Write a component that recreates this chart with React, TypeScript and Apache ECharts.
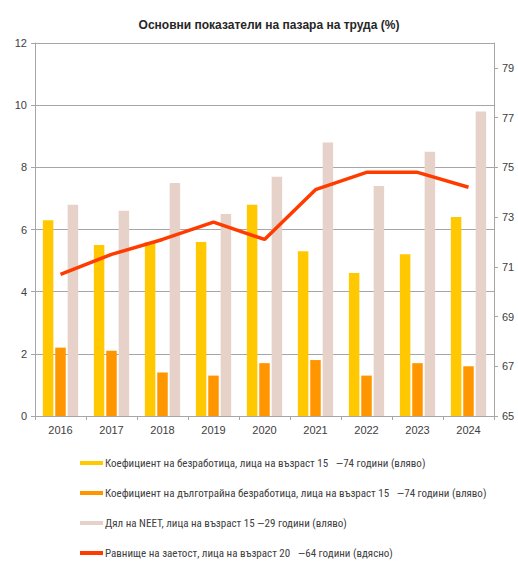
import React, { useEffect, useRef } from "react";
import * as echarts from "echarts";

const years = ["2016", "2017", "2018", "2019", "2020", "2021", "2022", "2023", "2024"];
const unemployment = [6.3, 5.5, 5.6, 5.6, 6.8, 5.3, 4.6, 5.2, 6.4];
const longTermUnemployment = [2.2, 2.1, 1.4, 1.3, 1.7, 1.8, 1.3, 1.7, 1.6];
const neet = [6.8, 6.6, 7.5, 6.5, 7.7, 8.8, 7.4, 8.5, 9.8];
const employment = [70.7, 71.5, 72.1, 72.8, 72.1, 74.1, 74.8, 74.8, 74.2];

const names = [
  "Коефициент на безработица, лица на възраст 15   —74 години (вляво)",
  "Коефициент на дълготрайна безработица, лица на възраст 15   —74 години (вляво)",
  "Дял на NEET, лица на възраст 15 —29 години (вляво)",
  "Равнище на заетост, лица на възраст 20   —64 години (вдясно)",
];

const FONT = "Liberation Sans";
const NARROW = "'Liberation Sans Narrow', 'Arial Narrow', 'Roboto Condensed', 'Liberation Sans'";

export default function App() {
  const ref = useRef<HTMLDivElement>(null);
  useEffect(() => {
    const chart = echarts.init(ref.current!, undefined, { renderer: "svg" });
    const axisColor = "#a6a6a6";
    const labelStyle = { color: "#404040", fontSize: 11, fontFamily: FONT };
    chart.setOption({
      animation: false,
      textStyle: { fontFamily: FONT },
      title: {
        text: "Основни показатели на пазара на труда (%)",
        left: 264,
        textAlign: "center",
        top: 14,
        textStyle: { fontSize: 12, fontWeight: "bold", color: "#262626", fontFamily: FONT },
      },
      grid: { left: 35, right: 24, top: 43, bottom: 145 },
      legend: {
        orient: "vertical",
        left: 80,
        top: 456,
        height: 140,
        padding: 0,
        itemWidth: 23,
        itemHeight: 4,
        itemGap: 16,
        icon: "rect",
        textStyle: { fontSize: 11, color: "#404040", fontFamily: NARROW, padding: [0, 0, 0, -3], lineHeight: 14 },
        data: names,
      },
      xAxis: {
        type: "category",
        data: years,
        axisLine: { lineStyle: { color: axisColor } },
        axisTick: { show: true, alignWithLabel: false, length: 4, lineStyle: { color: axisColor } },
        axisLabel: { ...labelStyle, fontSize: 11, margin: 8 },
      },
      yAxis: [
        {
          type: "value",
          min: 0,
          max: 12,
          interval: 2,
          axisLine: { show: true, lineStyle: { color: axisColor } },
          axisTick: { show: true, length: 4, lineStyle: { color: axisColor } },
          axisLabel: { ...labelStyle, margin: 8 },
          splitLine: { lineStyle: { color: axisColor, width: 1 } },
        },
        {
          type: "value",
          min: 65,
          max: 80,
          interval: 2,
          position: "right",
          axisLine: { show: true, lineStyle: { color: axisColor } },
          axisTick: { show: true, length: 4, lineStyle: { color: axisColor } },
          axisLabel: { ...labelStyle, margin: 8, showMaxLabel: false },
          splitLine: { show: false },
        },
      ],
      series: [
        {
          name: names[0],
          type: "bar",
          data: unemployment,
          barWidth: 10.5,
          barGap: "18%",
          barCategoryGap: "33%",
          itemStyle: { color: "#ffc800" },
        },
        {
          name: names[1],
          type: "bar",
          data: longTermUnemployment,
          barWidth: 10.5,
          barGap: "18%",
          itemStyle: { color: "#ff9600" },
        },
        {
          name: names[2],
          type: "bar",
          data: neet,
          barWidth: 10.5,
          barGap: "18%",
          itemStyle: { color: "#e6d2c8" },
        },
        {
          name: names[3],
          type: "line",
          yAxisIndex: 1,
          data: employment,
          showSymbol: false,
          symbol: "none",
          z: 5,
          lineStyle: { color: "#ff3c00", width: 3.5 },
          itemStyle: { color: "#ff3c00" },
        },
      ],
    });
    return () => chart.dispose();
  }, []);
  return (
    <div
      ref={ref}
      style={{ position: "fixed", left: 0, top: 0, width: 518, height: 561, background: "#fff" }}
    />
  );
}
